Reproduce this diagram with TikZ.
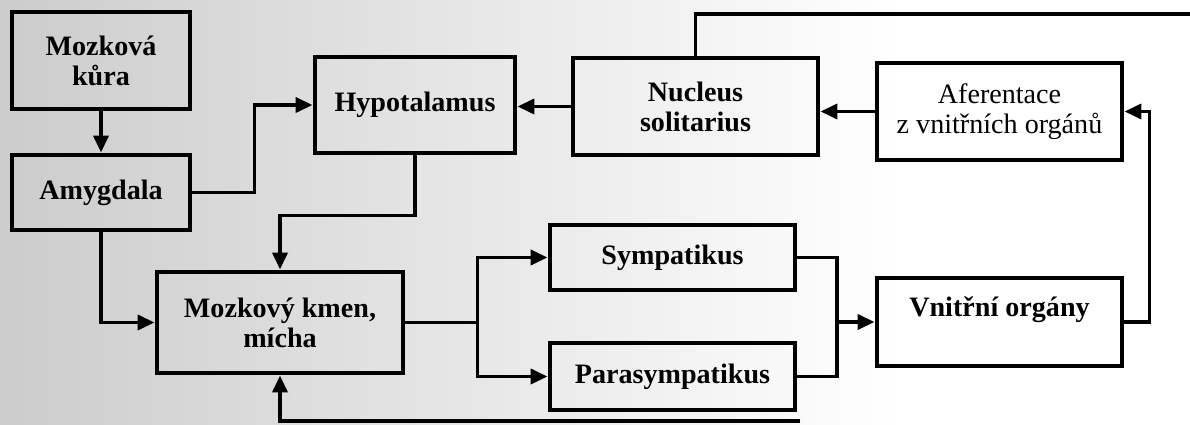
\documentclass[tikz,border=0pt]{standalone}
\usepackage{fontspec}
\setmainfont{Liberation Serif}
\usetikzlibrary{arrows.meta}

\begin{document}
\begin{tikzpicture}[x=0.02cm,y=-0.02cm,>={Triangle[length=0.34cm,width=0.3cm]},
  box/.style={draw,line width=2.8pt,align=center,font=\fontsize{16}{17}\selectfont\bfseries},
  conn/.style={line width=2.1pt}]
  \useasboundingbox (0,0) rectangle (1190,425);
  \shade[left color=black!20,right color=white] (0,0) rectangle (900,425);
  % boxes
  \node[box,minimum width=3.56cm,minimum height=1.94cm] (kura) at (101,60.5) {Mozková\\kůra};
  \node[box,minimum width=3.56cm,minimum height=1.5cm] (amyg) at (101,192.5) {Amygdala};
  \node[box,minimum width=4cm,minimum height=1.92cm] (hypo) at (415,105) {Hypotalamus};
  \node[box,minimum width=4.9cm,minimum height=1.94cm] (nucl) at (695.5,106.5) {Nucleus\\solitarius};
  \node[box,font=\fontsize{16}{17}\selectfont,minimum width=4.9cm,minimum height=1.94cm] (afer) at (999.5,111.5) {Aferentace\\z vnitřních orgánů};
  \node[box,minimum width=4.92cm,minimum height=2.02cm] (kmen) at (280,322.5) {Mozkový kmen,\\mícha};
  \node[box,minimum width=4.9cm,minimum height=1.3cm] (symp) at (672.5,257.5) {Sympatikus};
  \node[box,minimum width=4.9cm,minimum height=1.34cm] (para) at (672.5,376.5) {Parasympatikus};
  \node[box,minimum width=4.9cm,minimum height=1.76cm] (vnit) at (999.5,322) {Vnitřní orgány\\\mbox{}};
  % connectors
  \draw[conn,->] (kura) -- (amyg);
  \draw[conn,->] (amyg.east) -- ++(62,0) |- (hypo);
  \draw[conn,->] (amyg) |- (kmen);
  \draw[conn,->] (hypo.south) -- ++(0,60) -| (kmen);
  \draw[conn,->] (nucl.west) -- (nucl.west -| hypo.east);
  \draw[conn,->] (afer.west) -- (afer.west -| nucl.east);
  \draw[conn,->] (vnit.east) -- ++(25,0) |- (afer.east);
  \draw[conn] (kmen.east) -- ++(72,0) coordinate (split);
  \draw[conn,->] (split) |- (symp.west);
  \draw[conn,->] (split) |- (para.west);
  \coordinate (join) at (837,322);
  \draw[conn] (symp.east) -| (join) |- (para.east);
  \draw[conn,->] (join) -- (vnit.west);
  \coordinate (topend) at (1190,14);
  \draw[conn] (nucl.north) |- (topend);
  \coordinate (botend) at (800,421);
  \draw[conn,->] (botend) -| (kmen.south);
\end{tikzpicture}
\end{document}
